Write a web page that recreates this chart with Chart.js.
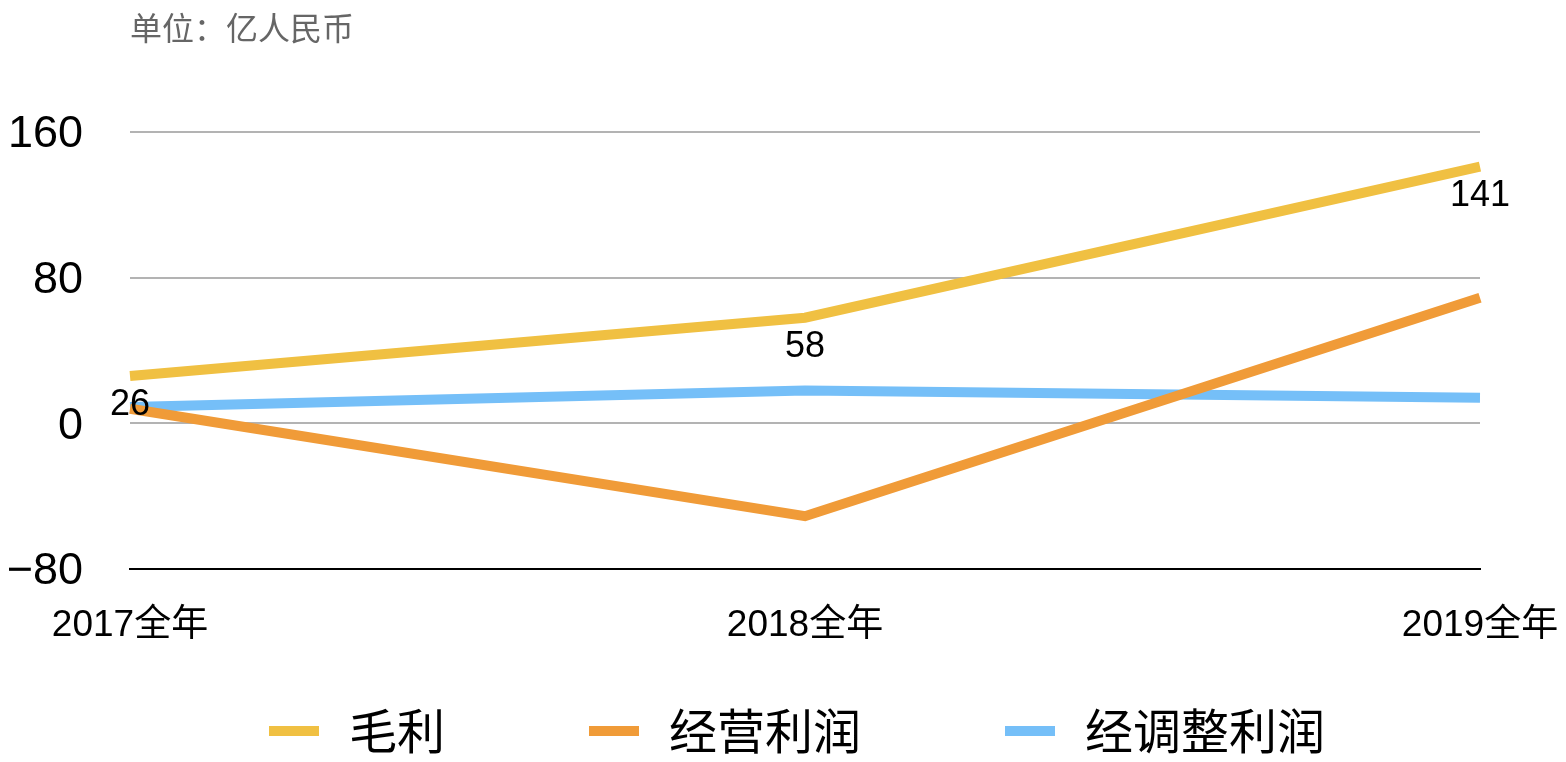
<!DOCTYPE html>
<html><head><meta charset="utf-8">
<script src="https://cdn.jsdelivr.net/npm/chart.js@4/dist/chart.umd.min.js"></script>
<style>html,body{margin:0;padding:0;background:#fff;overflow:hidden}#wrap{width:1566px;height:762px;position:relative}</style>
</head><body><div id="wrap"><canvas id="c" width="1566" height="762"></canvas></div>
<script>
const categories = ['2017全年', '2018全年', '2019全年'];
const grossProfit = [26, 58, 141];
const operatingProfit = [8, -51, 69];
const adjustedProfit = [9, 18, 14];
const seriesNames = ['毛利', '经营利润', '经调整利润'];
const seriesColors = ['#F0C042', '#F09B38', '#75BFF8'];
const yTicks = [-80, 0, 80, 160];
const unitLabel = '单位：亿人民币';

const FONT = '"Liberation Sans", "Noto Sans CJK SC", sans-serif';
const CJK = '"Noto Sans CJK SC", "Liberation Sans", sans-serif';

const overlayPlugin = {
  id: 'overlay',
  afterDatasetsDraw(chart) {
    const ctx = chart.ctx;
    ctx.save();
    const meta = chart.getDatasetMeta(0);
    ctx.font = '36px ' + FONT;
    ctx.fillStyle = '#000';
    ctx.textAlign = 'center';
    ctx.textBaseline = 'middle';
    meta.data.forEach((pt, i) => {
      ctx.fillText(String(grossProfit[i]), pt.x, pt.y + 29);
    });
    ctx.restore();
  },
  afterDraw(chart) {
    const ctx = chart.ctx;
    ctx.save();
    ctx.font = '32px ' + CJK;
    ctx.fillStyle = '#666666';
    ctx.textAlign = 'left';
    ctx.textBaseline = 'middle';
    ctx.fillText(unitLabel, chart.chartArea.left, 28);
    ctx.font = '48px ' + CJK;
    const items = chart.data.datasets.map(d => ({ text: d.label, color: d.borderColor, w: ctx.measureText(d.label).width }));
    const boxW = 50, gapText = 30, gapItem = 144;
    const total = items.reduce((s, it) => s + boxW + gapText + it.w, 0) + gapItem * (items.length - 1);
    let x = 797 - total / 2;
    const y = 731;
    items.forEach(it => {
      ctx.fillStyle = it.color;
      ctx.fillRect(x, y - 5, boxW, 10);
      x += boxW + gapText;
      ctx.fillStyle = '#000';
      ctx.fillText(it.text, x, y);
      x += it.w + gapItem;
    });
    ctx.restore();
  }
};

const mk = (label, data, color) => ({
  label, data, borderColor: color, backgroundColor: color,
  borderWidth: 10, pointRadius: 0, pointHoverRadius: 0, tension: 0,
  borderCapStyle: 'butt', borderJoinStyle: 'miter', fill: false
});

new Chart(document.getElementById('c'), {
  type: 'line',
  data: {
    labels: categories,
    datasets: [
      mk(seriesNames[0], grossProfit, seriesColors[0]),
      mk(seriesNames[1], operatingProfit, seriesColors[1]),
      mk(seriesNames[2], adjustedProfit, seriesColors[2])
    ]
  },
  options: {
    responsive: false,
    devicePixelRatio: 1,
    animation: false,
    layout: { padding: { left: 0, right: 86, top: 132, bottom: 113 } },
    plugins: { legend: { display: false }, tooltip: { enabled: false } },
    scales: {
      x: {
        offset: false,
        grid: { display: false, drawTicks: false },
        border: { display: true, color: '#000', width: 2 },
        ticks: { color: '#000', font: { size: 37, family: FONT }, padding: 35, maxRotation: 0, autoSkip: false },
        afterFit(scale) { scale.height = 80; scale.paddingRight = 0; scale.paddingLeft = 0; }
      },
      y: {
        min: -80, max: 160,
        afterBuildTicks(scale) { scale.ticks = yTicks.map(v => ({ value: v })); },
        grid: {
          drawTicks: false,
          color: ctx => (ctx.tick && ctx.tick.value === -80) ? '#000' : '#B3B3B3',
          lineWidth: 2
        },
        border: { display: false },
        ticks: {
          color: '#000', font: { size: 45, family: FONT }, padding: 47, labelOffset: 3,
          callback: v => v < 0 ? '\u2212' + Math.abs(v) : String(v)
        },
        afterFit(scale) { scale.width = 130; scale.paddingTop = 0; scale.paddingBottom = 0; }
      }
    }
  },
  plugins: [overlayPlugin]
});
</script></body></html>
